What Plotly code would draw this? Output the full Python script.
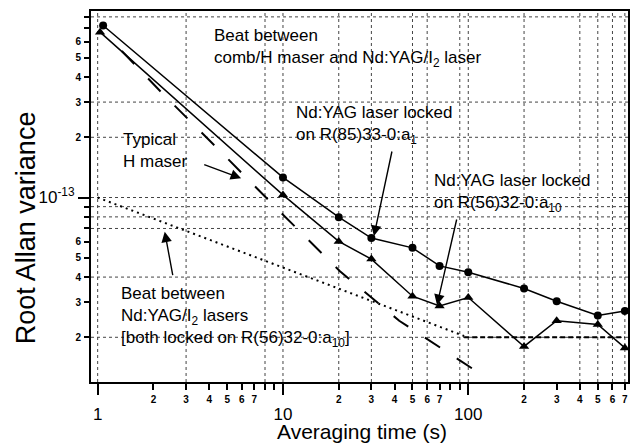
import plotly.graph_objects as go

# ---------------- data ----------------
tau_a1 = [1.07, 10, 20, 30, 50, 70, 100, 200, 300, 500, 700]
adev_a1 = [7.24e-13, 1.26e-13, 7.97e-14, 6.27e-14, 5.6e-14, 4.55e-14, 4.23e-14,
           3.51e-14, 3.03e-14, 2.57e-14, 2.71e-14]
tau_a10 = [1.03, 10, 20, 30, 50, 70, 100, 200, 300, 500, 700]
adev_a10 = [6.71e-13, 1.03e-13, 6.03e-14, 4.92e-14, 3.21e-14, 2.87e-14, 3.16e-14,
            1.80e-14, 2.42e-14, 2.32e-14, 1.77e-14]
tau_beat = [1, 95]
adev_beat = [1.0e-13, 2.03e-14]
tau_floor = [95, 700]
adev_floor = [2.0e-14, 2.0e-14]
tau_maser = [1.35, 2.29, 4.72, 9.75, 20.3, 42.4, 88.3, 123]
adev_maser = [5.4e-13, 3.24e-13, 1.66e-13, 8.4e-14, 4.28e-14, 2.42e-14, 1.55e-14, 1.27e-14]

x_major = [1, 10, 100]
x_major_text = ["1", "10", "100"]
x_minor = [2, 3, 4, 5, 6, 7, 8, 9, 20, 30, 40, 50, 60, 70, 80, 90, 200, 300, 400, 500, 600, 700]
x_minor_text = ["2", "3", "4", "5", "6", "7", "", "", "2", "3", "4", "5", "6", "7", "", "",
                "2", "3", "4", "5", "6", "7"]
y_major = [1e-13]
y_major_text = ["10<sup>-13</sup>"]
y_minor = [2e-14, 3e-14, 4e-14, 5e-14, 6e-14, 7e-14, 8e-14, 9e-14,
           2e-13, 3e-13, 4e-13, 5e-13, 6e-13, 7e-13, 8e-13]
y_minor_text = ["2", "3", "4", "5", "6", "", "", "", "2", "3", "4", "5", "6", "", ""]
grid_x = [1, 3, 8, 10, 20, 30, 50, 60, 90, 100, 200, 400, 500, 600, 700]
grid_y = [2e-14, 4e-14, 7e-14, 8e-14, 9e-14, 1e-13, 2e-13, 3e-13, 8e-13]

FONT = "Liberation Sans, Arial, sans-serif"
XR = [-0.036, 2.862]
YR = [-13.9225, -12.0675]

fig = go.Figure()

fig.add_trace(go.Scatter(x=tau_maser, y=adev_maser, mode="lines",
                         line=dict(color="black", width=2, dash="18px,20px"),
                         showlegend=False, hoverinfo="skip"))
fig.add_trace(go.Scatter(x=tau_beat, y=adev_beat, mode="lines",
                         line=dict(color="black", width=2, dash="2px,4px"),
                         showlegend=False, hoverinfo="skip"))
fig.add_trace(go.Scatter(x=tau_floor, y=adev_floor, mode="lines",
                         line=dict(color="black", width=2, dash="5px,3px"),
                         showlegend=False, hoverinfo="skip"))
fig.add_trace(go.Scatter(x=tau_a1, y=adev_a1, mode="lines+markers",
                         line=dict(color="black", width=1.5),
                         marker=dict(symbol="circle", size=8, color="black"),
                         showlegend=False))
fig.add_trace(go.Scatter(x=tau_a10, y=adev_a10, mode="lines+markers",
                         line=dict(color="black", width=1.5),
                         marker=dict(symbol="triangle-up", size=9, color="black"),
                         showlegend=False))
# carrier for the overlaid label axes (draws nothing)
fig.add_trace(go.Scatter(x=tau_a1, y=adev_a1, mode="none", xaxis="x2", yaxis="y2",
                         showlegend=False, hoverinfo="skip"))

shapes = []
for gx in grid_x:
    shapes.append(dict(type="line", xref="x", yref="paper", x0=gx, x1=gx, y0=0, y1=1,
                       line=dict(color="#444", width=1, dash="dot"), layer="below"))
for gy in grid_y:
    shapes.append(dict(type="line", xref="paper", yref="y", x0=0, x1=1, y0=gy, y1=gy,
                       line=dict(color="#444", width=1, dash="dot"), layer="below"))

W, L, R, T, B = 639, 91, 9, 11, 62
PW = W - L - R
PH = 444 - T - B


def px(xp):
    return (xp - L) / PW


def py(yp):
    return (444 - B - yp) / PH


annots = []
txt = [
    ("Beat between<br>comb/H maser and Nd:YAG/I<sub>2</sub> laser", 212, 24),
    ("Typical<br>H maser", 121, 128),
    ("Nd:YAG laser locked<br>on R(85)33-0:a<sub>1</sub>", 295, 101),
    ("Nd:YAG laser locked<br>on R(56)32-0:a<sub>10</sub>", 433, 169),
    ("Beat between<br>Nd:YAG/I<sub>2</sub> lasers<br>[both locked on R(56)32-0:a<sub>10</sub>]", 119, 282),
]
for t, x, y in txt:
    annots.append(dict(text=t, xref="paper", yref="paper", x=px(x), y=py(y),
                       xanchor="left", yanchor="top", align="left", showarrow=False,
                       font=dict(family=FONT, size=17, color="black")))
arrows = [
    (241.7, 178.3, 203.3, 164.0),
    (375.0, 236.0, 393.3, 150.0),
    (438.3, 305.0, 458.3, 218.0),
    (165.0, 231.7, 173.3, 276.7),
]
for hx, hy, tx, ty in arrows:
    annots.append(dict(text="", xref="paper", yref="paper", x=px(hx), y=py(hy),
                       ax=tx - hx, ay=ty - hy, showarrow=True, arrowhead=2,
                       arrowsize=1.5, arrowwidth=1.4, arrowcolor="black"))
# axis titles
annots.append(dict(text="Averaging time (s)", xref="paper", yref="paper",
                   x=px(363), y=py(431), xanchor="center", yanchor="middle",
                   showarrow=False, font=dict(family=FONT, size=21, color="black")))
annots.append(dict(text="Root Allan variance", xref="paper", yref="paper",
                   x=px(26), y=py(228), xanchor="center", yanchor="middle", textangle=-90,
                   showarrow=False, font=dict(family=FONT, size=27, color="black")))

fig.update_layout(
    width=W, height=444,
    margin=dict(l=L, r=R, t=T, b=B),
    plot_bgcolor="white", paper_bgcolor="white",
    font=dict(family=FONT, color="black"),
    shapes=shapes, annotations=annots,
    xaxis=dict(type="log", range=XR, showgrid=False, zeroline=False,
               showline=True, mirror=True, linecolor="black", linewidth=2,
               tickmode="array", tickvals=x_major, ticktext=x_major_text,
               ticks="outside", ticklen=11, tickwidth=1.5, tickcolor="black",
               tickfont=dict(size=17, family=FONT), ticklabelstandoff=5,
               minor=dict(tickmode="array", tickvals=x_minor, ticks="outside",
                          ticklen=6, tickwidth=1.5, tickcolor="black", showgrid=False)),
    xaxis2=dict(type="log", range=XR, overlaying="x", anchor="y2", side="bottom",
                showgrid=False, zeroline=False, showline=False,
                tickmode="array", tickvals=x_minor, ticktext=x_minor_text, ticks="",
                tickfont=dict(size=10, family=FONT, weight="bold"), ticklabelstandoff=10),
    yaxis=dict(type="log", range=YR, showgrid=False, zeroline=False,
               showline=True, mirror=True, linecolor="black", linewidth=2,
               tickmode="array", tickvals=y_major, ticktext=y_major_text,
               ticks="outside", ticklen=11, tickwidth=1.5, tickcolor="black",
               tickfont=dict(size=17, family=FONT),
               minor=dict(tickmode="array", tickvals=y_minor, ticks="outside",
                          ticklen=5, tickwidth=1.5, tickcolor="black", showgrid=False)),
    yaxis2=dict(type="log", range=YR, overlaying="y", anchor="x2", side="left",
                showgrid=False, zeroline=False, showline=False,
                tickmode="array", tickvals=y_minor, ticktext=y_minor_text, ticks="",
                tickfont=dict(size=10, family=FONT, weight="bold"), ticklabelstandoff=9),
)

fig.write_html("out.html")
